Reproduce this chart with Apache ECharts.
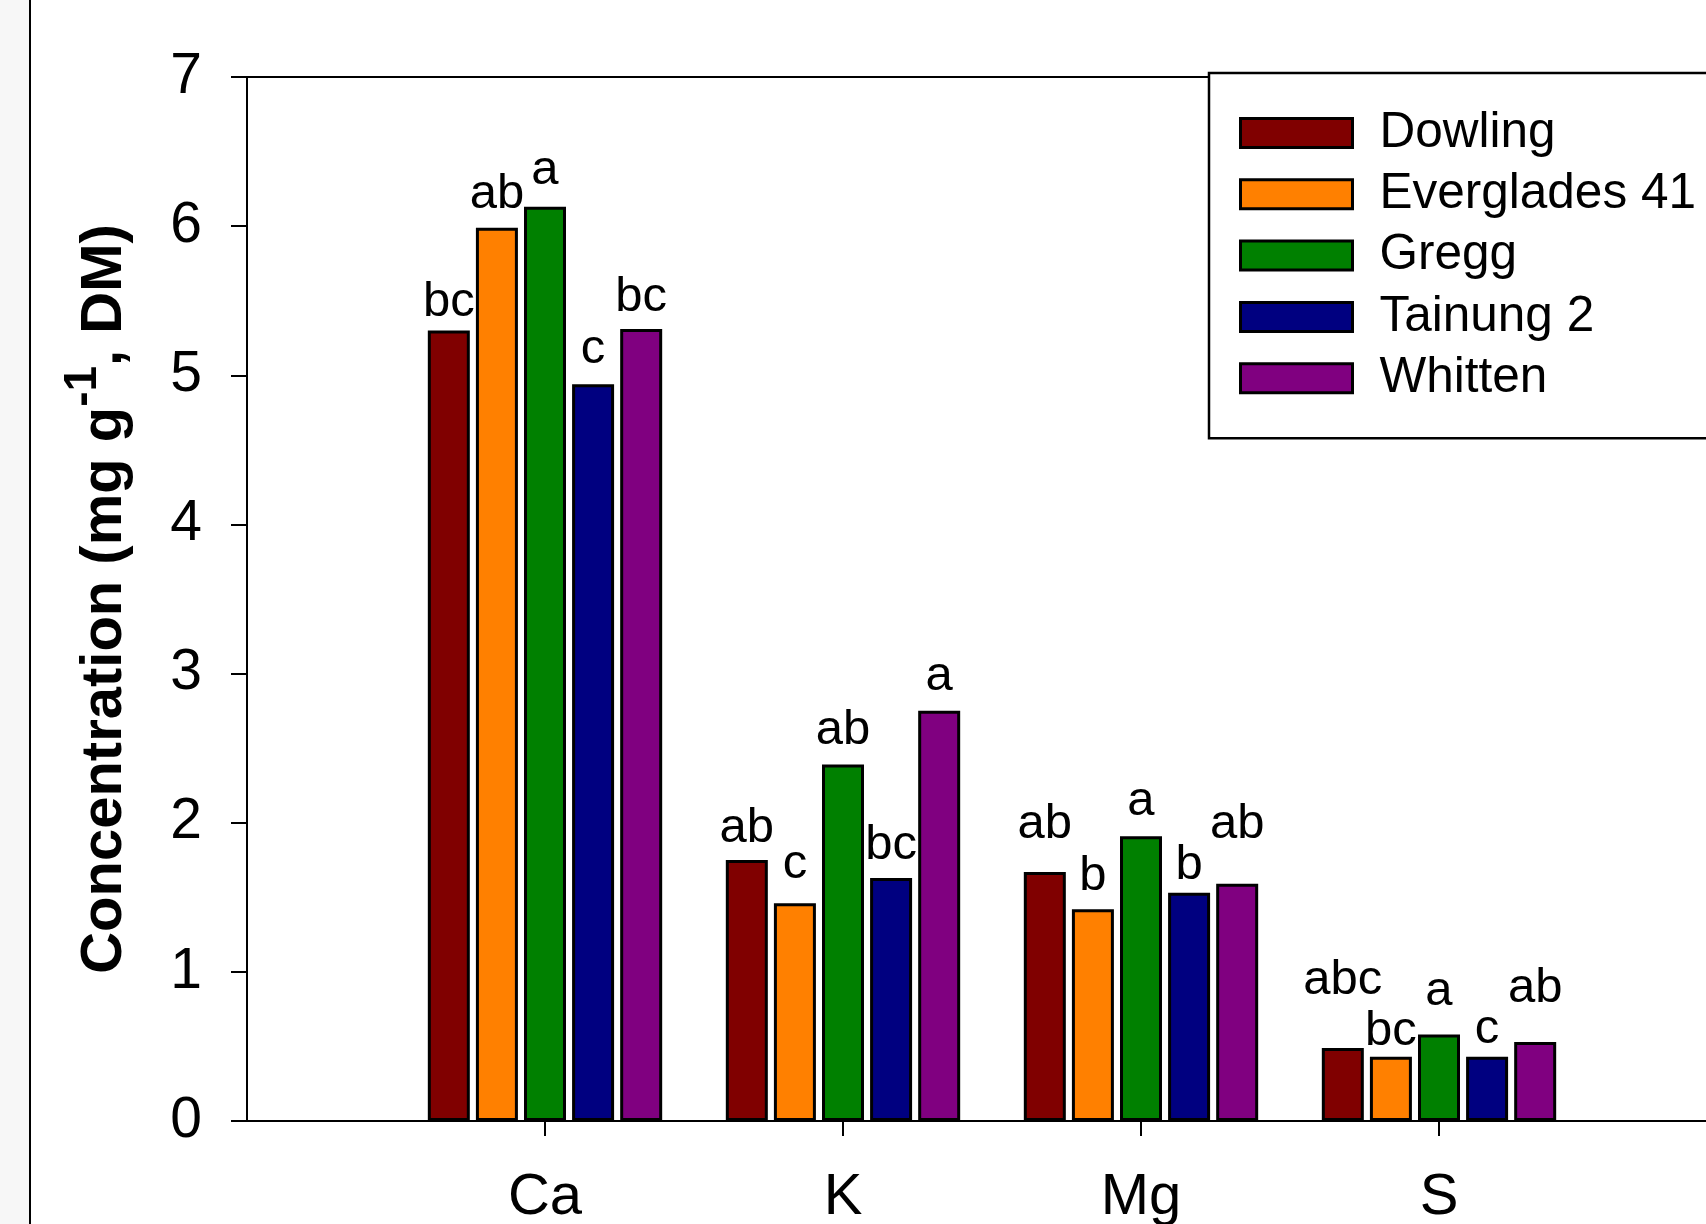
<!DOCTYPE html>
<html>
<head>
<meta charset="utf-8">
<script src="https://cdn.jsdelivr.net/npm/echarts@6/dist/echarts.min.js"></script>
<style>
  html, body { margin: 0; padding: 0; background: #fff; overflow: hidden; width: 1706px; height: 1224px; }
  #chart { width: 1800px; height: 1224px; }
</style>
</head>
<body>
<div id="chart"></div>
<script>
// Element concentrations (mg g-1, DM) for five genotypes
const elements = ['Ca', 'K', 'Mg', 'S'];
const genotypes = ['Dowling', 'Everglades 41', 'Gregg', 'Tainung 2', 'Whitten'];
const genotypeColors = ['#800000', '#ff8000', '#008000', '#000080', '#800080'];

const dowling    = [5.30, 1.75, 1.67, 0.49];
const everglades = [5.99, 1.46, 1.42, 0.43];
const gregg      = [6.13, 2.39, 1.91, 0.58];
const tainung    = [4.94, 1.63, 1.53, 0.43];
const whitten    = [5.31, 2.75, 1.59, 0.53];

// Mean-separation letters per genotype, in element order
const dowlingLetters    = ['bc', 'ab', 'ab', 'abc'];
const evergladesLetters = ['ab', 'c', 'b', 'bc'];
const greggLetters      = ['a', 'ab', 'a', 'a'];
const tainungLetters    = ['c', 'bc', 'b', 'c'];
const whittenLetters    = ['bc', 'a', 'ab', 'ab'];

// Height (mg g-1) at which each letter sits (top of the error range)
const dowlingLetterTop    = [5.40, 1.87, 1.90, 0.85];
const evergladesLetterTop = [6.12, 1.63, 1.55, 0.51];
const greggLetterTop      = [6.28, 2.53, 2.05, 0.78];
const tainungLetterTop    = [5.08, 1.76, 1.62, 0.52];
const whittenLetterTop    = [5.43, 2.89, 1.90, 0.80];

const yTicks = [0, 1, 2, 3, 4, 5, 6, 7];

const values = [dowling, everglades, gregg, tainung, whitten];
const letters = [dowlingLetters, evergladesLetters, greggLetters, tainungLetters, whittenLetters];
const letterTops = [dowlingLetterTop, evergladesLetterTop, greggLetterTop, tainungLetterTop, whittenLetterTop];

const FONT = '"Liberation Sans", Arial, Helvetica, sans-serif';
const BAR_W = 42;
const BAR_GAP = 0.145;
const BAR_PITCH = BAR_W * (1 + BAR_GAP);

// category slots: an empty slot before Ca and after S
const axisCats = [''].concat(elements, ['']);

const barSeries = genotypes.map((name, g) => ({
  name: name,
  type: 'bar',
  barWidth: BAR_W,
  barGap: (BAR_GAP * 100) + '%',
  itemStyle: { color: genotypeColors[g], borderColor: '#000', borderWidth: 3 },
  emphasis: { disabled: true },
  data: values[g].map((v, i) => [i + 1, v])
}));

const letterData = [];
for (let g = 0; g < genotypes.length; g++) {
  for (let i = 0; i < elements.length; i++) {
    letterData.push([i + 1, letterTops[g][i], g, i]);
  }
}

const letterSeries = {
  type: 'custom',
  name: 'letters',
  silent: true,
  z: 5,
  data: letterData,
  renderItem: function (params, api) {
    const g = api.value(2), i = api.value(3);
    const p = api.coord([api.value(0), api.value(1)]);
    return {
      type: 'text',
      x: p[0] + (g - 2) * BAR_PITCH,
      y: p[1] + 11,
      style: {
        text: letters[g][i],
        fontFamily: FONT,
        fontSize: 49,
        fill: '#000',
        align: 'center',
        verticalAlign: 'bottom'
      }
    };
  }
};

const chart = echarts.init(document.getElementById('chart'), null, { renderer: 'canvas' });

chart.setOption({
  animation: false,
  backgroundColor: '#fff',
  textStyle: { fontFamily: FONT },
  grid: {
    left: 247, top: 77, width: 1490, height: 1044,
    show: true, borderColor: '#000', borderWidth: 2, backgroundColor: 'transparent',
    containLabel: false,
    outerBoundsMode: 'none'
  },
  legend: {
    left: 1209, top: 73,
    orient: 'vertical',
    data: genotypes,
    icon: 'rect',
    itemWidth: 112, itemHeight: 29,
    itemGap: 11.3,
    padding: [35, 80, 35, 30],
    backgroundColor: '#fff',
    borderColor: '#000', borderWidth: 2.5, borderRadius: 0,
    itemStyle: { borderColor: '#000', borderWidth: 3 },
    selectedMode: false,
    textStyle: { fontFamily: FONT, fontSize: 49.5, color: '#000', lineHeight: 48, padding: [0, 0, 0, 22] }
  },
  xAxis: {
    type: 'category',
    data: axisCats,
    boundaryGap: false,
    axisLine: { lineStyle: { color: '#000', width: 2 } },
    axisTick: {
      length: 15, lineStyle: { color: '#000', width: 2 },
      interval: function (idx, val) { return val !== ''; }
    },
    axisLabel: { fontFamily: FONT, fontSize: 58, color: '#000', margin: 48, interval: 0 },
    splitLine: { show: false }
  },
  yAxis: {
    type: 'value',
    min: yTicks[0], max: yTicks[yTicks.length - 1], interval: 1,
    axisLine: { show: true, lineStyle: { color: '#000', width: 2 } },
    axisTick: { show: true, length: 16, lineStyle: { color: '#000', width: 2 } },
    axisLabel: { fontFamily: FONT, fontSize: 57, color: '#000', margin: 45 },
    splitLine: { show: false },
    name: '{t|Concentration (mg g}{s|-1}{t|, DM)}',
    nameLocation: 'middle',
    nameRotate: 90,
    nameGap: 113,
    nameTextStyle: {
      rich: {
        t: { fontFamily: FONT, fontSize: 58, fontWeight: 'bold', color: '#000', lineHeight: 74, verticalAlign: 'bottom' },
        s: { fontFamily: FONT, fontSize: 46, fontWeight: 'bold', color: '#000', verticalAlign: 'top' }
      }
    }
  },
  graphic: [
    { type: 'rect', left: 0, top: 0, shape: { x: 0, y: 0, width: 29, height: 1224 }, style: { fill: '#f7f7f7' }, silent: true },
    { type: 'line', shape: { x1: 30, y1: 0, x2: 30, y2: 1224 }, style: { stroke: '#000', lineWidth: 2 }, silent: true }
  ],
  series: barSeries.concat([letterSeries])
});
</script>
</body>
</html>
